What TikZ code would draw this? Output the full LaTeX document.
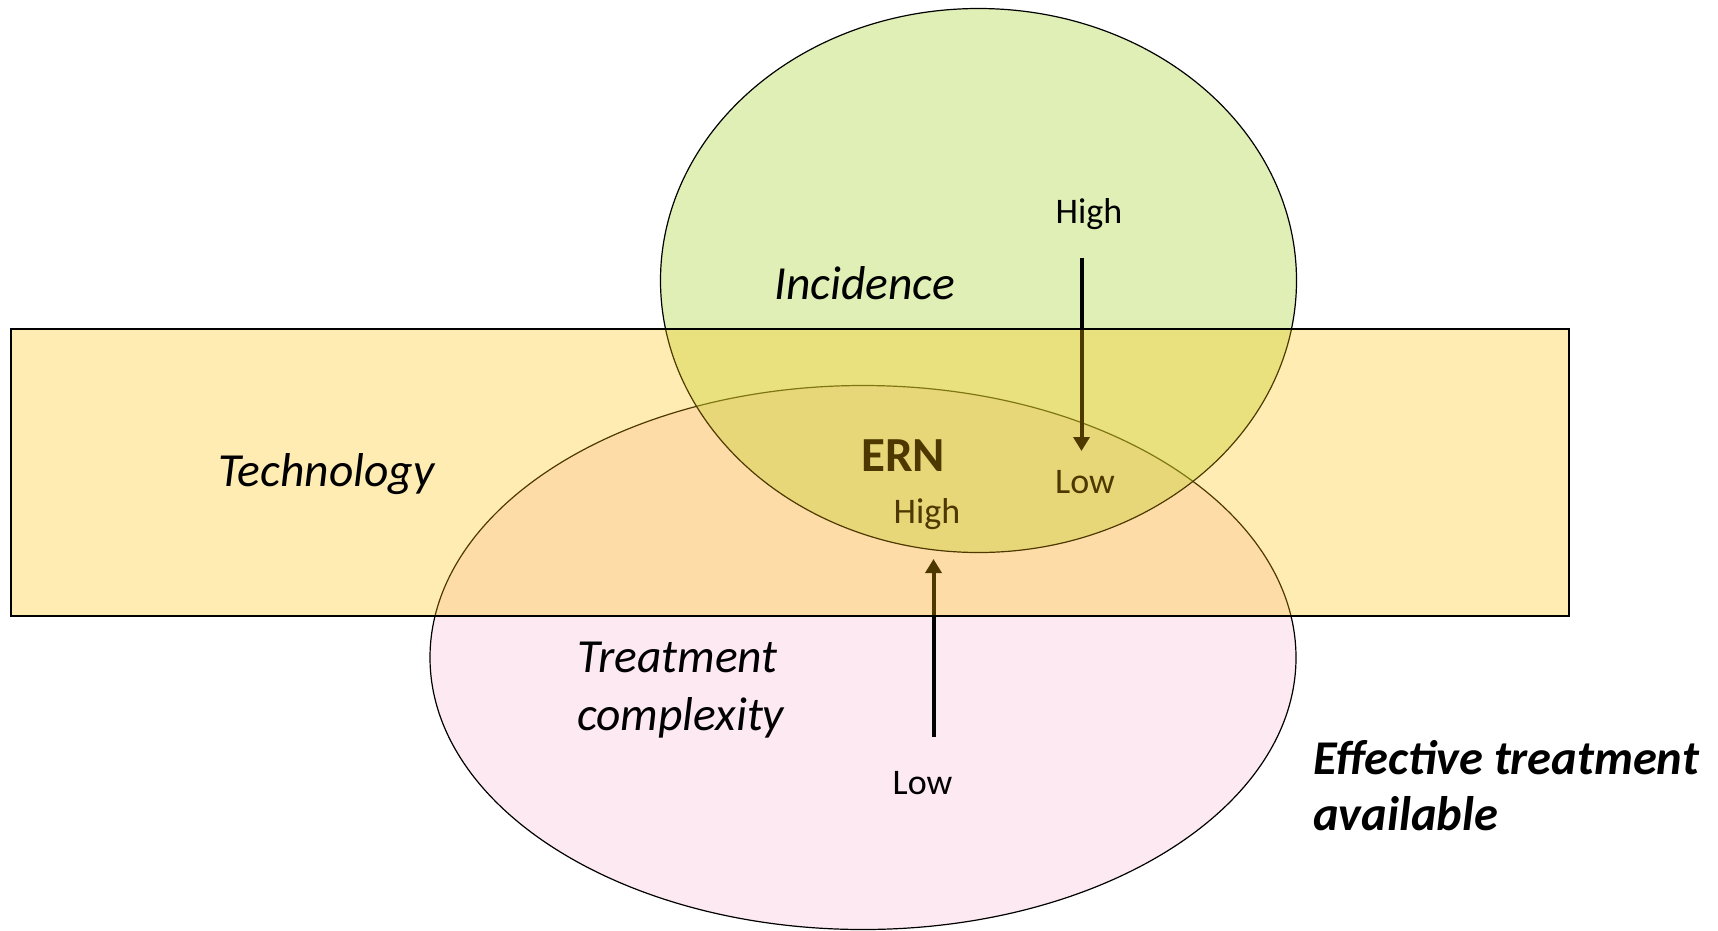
\documentclass[tikz,border=0pt]{standalone}
\usepackage{fontspec}
\setmainfont{Carlito}
\usetikzlibrary{arrows.meta,shapes.geometric}
\definecolor{incgreen}{RGB}{177,215,70}
\definecolor{trtpink}{RGB}{253,233,241}
\definecolor{techgold}{RGB}{255,192,0}
\tikzset{
    lvl/.style={font=\fontsize{36}{40}\selectfont},
    area/.style={font=\fontsize{47.5}{58}\selectfont\itshape},
    trend/.style={line width=4pt, -{Triangle[width=16pt,length=14pt]}},
}

\begin{document}
\begin{tikzpicture}[x=1pt,y=-1pt]
    \useasboundingbox (0,0) rectangle (1718,930);
    % circles of the two factors
    \node[ellipse, draw, line width=1.2pt, fill=trtpink, inner sep=0,
          minimum width=866pt, minimum height=544pt] (treat) at (863,657.5) {};
    \node[ellipse, draw, line width=1.2pt, fill=incgreen, fill opacity=0.4, inner sep=0,
          minimum width=636pt, minimum height=544pt] (inc) at (978.5,280.5) {};
    \coordinate (inchi) at (1081.5,257.5);
    \coordinate (inclo) at (1081.5,451);
    \coordinate (trtlo) at (933.5,737);
    \coordinate (trthi) at (933.5,559);
    \draw[trend] (inchi) -- (inclo);
    \draw[trend] (trtlo) -- (trthi);
    \node[lvl] (inchitxt) at (1089,214) {High};
    \node[lvl] (inclotxt) at (1085,482) {Low};
    \node[lvl] (trthitxt) at (927,514) {High};
    \node[lvl] (trtlotxt) at (922.5,783) {Low};
    \node[font=\fontsize{49}{52}\selectfont\bfseries] (ern) at (903,456) {ERN};
    % technology band on top
    \node[draw, line width=1.6pt, fill=techgold, fill opacity=0.3, inner sep=0,
          minimum width=1558pt, minimum height=287pt] (tech) at (790,472.5) {};
    \node[area] (techtxt) at (326.5,474) {Technology};
    \node[area] (inctxt) at (864.5,283) {Incidence};
    \node[area, align=left, anchor=west, inner sep=0] (trttxt) at (577,690) {Treatment\\complexity};
    \node[font=\fontsize{48.5}{56}\selectfont\bfseries\itshape, align=left, anchor=west, inner sep=0]
        (eff) at (1313,786) {Effective treatment\\available};
\end{tikzpicture}
\end{document}
